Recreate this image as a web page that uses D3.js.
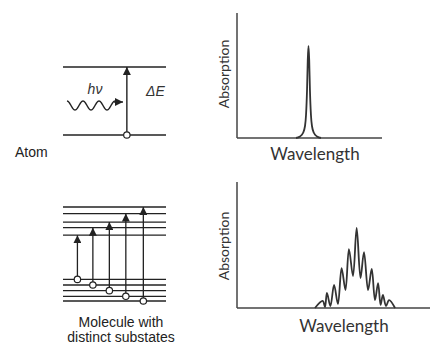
<!DOCTYPE html>
<html>
<head>
<meta charset="utf-8">
<script src="https://cdn.jsdelivr.net/npm/d3@7"></script>
<style>
  body { margin: 0; background: #fff; }
  svg { display: block; }
</style>
</head>
<body>
<div id="chart"></div>
<script>
// energy levels (arbitrary units)
var atomLevels = [0, 1];
var atomTransition = { x: 0.62, from: 0, to: 1 };
var upperLevels = [7.0, 7.8, 8.4, 9.3, 10];
var lowerLevels = [0, 0.5, 1.1, 1.7, 2.3];
var molTransitions = [
  { x: 0.14, from: 2.3, to: 7.0 },
  { x: 0.29, from: 1.7, to: 7.8 },
  { x: 0.45, from: 1.1, to: 8.4 },
  { x: 0.61, from: 0.5, to: 9.3 },
  { x: 0.78, from: 0, to: 10 }
];

// atom spectrum: one narrow line
var lineWave = [40.7, 43.4, 45.5, 46.9, 47.6, 48.3, 48.8, 49.3, 49.8, 50.3, 51.0, 51.7, 53.1, 55.2, 57.9];
var lineAbs  = [0, 1.2, 4.0, 9.6, 18.4, 38.4, 62.4, 73.6, 62.4, 38.4, 18.4, 9.6, 4.0, 1.2, 0];

// molecule spectrum: band with substructure
var bandWave = [40.4, 44.4, 45.6, 46.6, 48.4, 50.3, 52.3, 54.2, 56.2, 58.0, 60.1, 62.0, 64.0, 65.8, 67.9, 69.8, 71.5, 73.1, 74.4, 75.6, 77.2, 78.8, 81.9];
var bandAbs  = [0, 5.6, 0.8, 11.9, 1.6, 18.3, 3.2, 31.7, 14.3, 46.8, 25.4, 63.5, 23.8, 44.4, 14.3, 31.0, 6.3, 19.8, 2.4, 10.3, 1.6, 6.3, 0];

var W = 430, H = 343;
var ink = "#222";
var sans = "Liberation Sans, Arial, sans-serif";

var svg = d3.select("#chart").append("svg")
  .attr("width", W).attr("height", H);
svg.append("rect").attr("width", W).attr("height", H).attr("fill", "#fff");

var defs = svg.append("defs");
defs.append("marker")
  .attr("id", "head")
  .attr("viewBox", "0 0 10 10")
  .attr("refX", 10).attr("refY", 5)
  .attr("markerWidth", 8).attr("markerHeight", 8)
  .attr("markerUnits", "userSpaceOnUse")
  .attr("orient", "auto")
  .append("path").attr("d", "M0,0 L10,5 L0,10 Z").attr("fill", ink);

// ---------- atom level diagram ----------
var xAtom = d3.scaleLinear().domain([0, 1]).range([63, 166]);
var yAtom = d3.scaleLinear().domain([0, 1]).range([135, 67]);

svg.selectAll(".atomLevel")
  .data(atomLevels)
  .enter().append("line")
  .attr("x1", xAtom(0)).attr("x2", xAtom(1))
  .attr("y1", function(d) { return yAtom(d); })
  .attr("y2", function(d) { return yAtom(d); })
  .attr("stroke", ink).attr("stroke-width", 1.4);

svg.append("line")
  .attr("x1", xAtom(atomTransition.x)).attr("x2", xAtom(atomTransition.x))
  .attr("y1", yAtom(atomTransition.from)).attr("y2", yAtom(atomTransition.to))
  .attr("stroke", ink).attr("stroke-width", 1.4)
  .attr("marker-end", "url(#head)");
svg.append("circle")
  .attr("cx", xAtom(atomTransition.x)).attr("cy", yAtom(atomTransition.from))
  .attr("r", 3.2).attr("fill", "#fff").attr("stroke", ink).attr("stroke-width", 1.2);

// photon squiggle
var wave = d3.range(67, 115.5, 0.5).map(function(x) {
  return [x, 105.5 - 4.5 * Math.cos(2 * Math.PI * (x - 67) / 16)];
});
svg.append("path")
  .attr("d", d3.line()(wave))
  .attr("fill", "none").attr("stroke", ink).attr("stroke-width", 1.4);
svg.append("line")
  .attr("x1", 114).attr("y1", 102).attr("x2", 123).attr("y2", 102)
  .attr("stroke", ink).attr("stroke-width", 1.4)
  .attr("marker-end", "url(#head)");

svg.append("text")
  .attr("x", 95).attr("y", 94)
  .attr("text-anchor", "middle")
  .style("font-family", sans)
  .style("font-size", "14px").style("font-style", "italic")
  .attr("fill", "#333")
  .text("hν");
svg.append("text")
  .attr("x", 146).attr("y", 96)
  .style("font-family", sans)
  .style("font-size", "14px").style("font-style", "italic")
  .attr("fill", "#333")
  .text("ΔE");

svg.append("text")
  .attr("x", 15).attr("y", 157)
  .style("font-family", sans)
  .style("font-size", "14px")
  .attr("fill", "#222")
  .text("Atom");

// ---------- molecule level diagram ----------
var xMol = d3.scaleLinear().domain([0, 1]).range([63, 166]);
var yMol = d3.scaleLinear().domain([0, 10]).range([301, 207]);

svg.selectAll(".molLevel")
  .data(upperLevels.concat(lowerLevels))
  .enter().append("line")
  .attr("x1", xMol(0)).attr("x2", xMol(1))
  .attr("y1", function(d) { return yMol(d); })
  .attr("y2", function(d) { return yMol(d); })
  .attr("stroke", ink).attr("stroke-width", 1.3);

svg.selectAll(".molArrow")
  .data(molTransitions)
  .enter().append("line")
  .attr("x1", function(d) { return xMol(d.x); })
  .attr("x2", function(d) { return xMol(d.x); })
  .attr("y1", function(d) { return yMol(d.from); })
  .attr("y2", function(d) { return yMol(d.to); })
  .attr("stroke", ink).attr("stroke-width", 1.3)
  .attr("marker-end", "url(#head)");

svg.selectAll(".molDot")
  .data(molTransitions)
  .enter().append("circle")
  .attr("cx", function(d) { return xMol(d.x); })
  .attr("cy", function(d) { return yMol(d.from); })
  .attr("r", 3.2).attr("fill", "#fff").attr("stroke", ink).attr("stroke-width", 1.2);

svg.append("text")
  .attr("x", 121).attr("y", 327)
  .attr("text-anchor", "middle")
  .style("font-family", sans)
  .style("font-size", "14px")
  .attr("fill", "#222")
  .selectAll("tspan")
  .data(["Molecule with", "distinct substates"])
  .enter().append("tspan")
  .attr("x", 121)
  .attr("dy", function(d, i) { return i === 0 ? 0 : 15; })
  .text(function(d) { return d; });

// ---------- spectra ----------
function spectrum(xr, yr, xs, ys, curve, labelY, absY, wlX) {
  var x = d3.scaleLinear().domain([0, 100]).range(xr);
  var y = d3.scaleLinear().domain([0, 100]).range(yr);

  svg.append("line")
    .attr("x1", x(0)).attr("x2", x(0)).attr("y1", y(0)).attr("y2", y(100))
    .attr("stroke", "#444").attr("stroke-width", 1.5);
  svg.append("line")
    .attr("x1", x(0)).attr("x2", x(100)).attr("y1", y(0)).attr("y2", y(0))
    .attr("stroke", "#444").attr("stroke-width", 1.5);

  var pts = xs.map(function(v, i) { return [v, ys[i]]; });
  svg.append("path")
    .datum(pts)
    .attr("fill", "none").attr("stroke", "#333").attr("stroke-width", 1.8)
    .attr("d", d3.line()
      .x(function(d) { return x(d[0]); })
      .y(function(d) { return y(d[1]); })
      .curve(curve));

  svg.append("text")
    .attr("transform", "translate(" + 229 + "," + absY + ") rotate(-90)")
    .attr("text-anchor", "middle")
    .style("font-family", "Lato, sans-serif")
    .style("font-size", "14px")
    .attr("fill", "#333")
    .text("Absorption");

  svg.append("text")
    .attr("x", wlX).attr("y", labelY)
    .attr("text-anchor", "middle")
    .style("font-family", "Lato, sans-serif")
    .style("font-size", "17px")
    .attr("fill", "#333")
    .text("Wavelength");
}

spectrum([237, 382], [138, 13], lineWave, lineAbs, d3.curveMonotoneX, 160, 74, 315);
spectrum([237, 430], [308, 182], bandWave, bandAbs, d3.curveCatmullRom, 332, 246, 344);
</script>
</body>
</html>
